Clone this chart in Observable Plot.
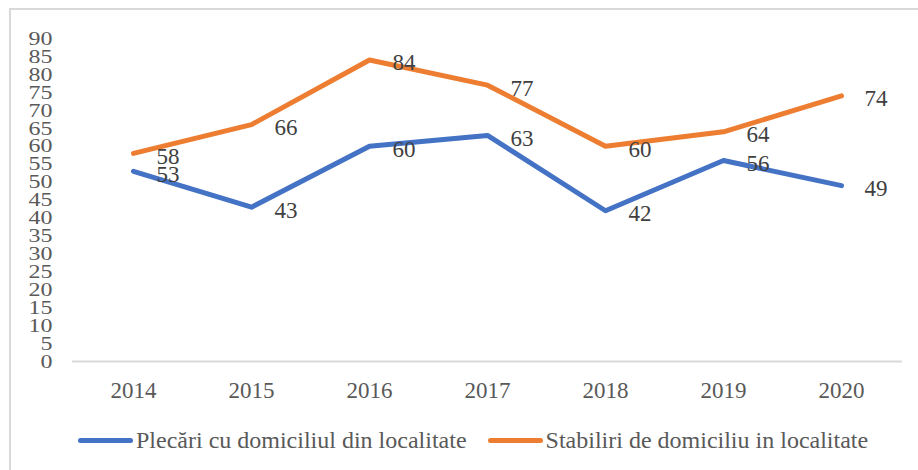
<!DOCTYPE html>
<html>
<head>
<meta charset="utf-8">
<script src="https://cdn.jsdelivr.net/npm/d3@7"></script>
<script src="https://cdn.jsdelivr.net/npm/@observablehq/plot@0.6"></script>
<style>
  html, body { margin: 0; padding: 0; background: #fff; overflow: hidden; font-family: 'Liberation Serif', serif; }
  #wrap { position: relative; width: 918px; height: 470px; font-family: 'Liberation Serif', serif; }
  #frame { position: absolute; left: 9px; top: 8px; width: 1000px; height: 1000px; border-top: 2px solid #d9d9d9; border-left: 2px solid #d9d9d9; box-sizing: border-box; }
  #chart { position: absolute; left: 0; top: 0; }
  #chart svg, #chart svg text { font-family: 'Liberation Serif', serif !important; }
  #legend { position: absolute; top: 427px; left: 78px; display: flex; align-items: center; font-size: 24px; color: #595959; white-space: nowrap; font-family: 'Liberation Serif', serif; }
  .item { display: flex; align-items: center; }
  .swatch { width: 55px; height: 5px; border-radius: 3px; margin-right: 3px; }
</style>
</head>
<body>
<div id="wrap">
  <div id="frame"></div>
  <div id="chart"></div>
  <div id="legend"></div>
</div>
<script>
const years = ["2014", "2015", "2016", "2017", "2018", "2019", "2020"];
const plecari = [53, 43, 60, 63, 42, 56, 49];
const stabiliri = [58, 66, 84, 77, 60, 64, 74];
const seriesNames = ["Plecări cu domiciliul din localitate", "Stabiliri de domiciliu in localitate"];
const colors = ["#4472C4", "#ED7D31"];
const yTicks = d3.range(0, 91, 5);

const data = [];
years.forEach((y, i) => {
  data.push({year: y, value: plecari[i], series: seriesNames[0]});
  data.push({year: y, value: stabiliri[i], series: seriesNames[1]});
});

const font = "'Liberation Serif', serif";

const chart = Plot.plot({
  width: 918,
  height: 470,
  marginLeft: 72,
  marginRight: 16,
  marginTop: 38,
  marginBottom: 109,
  style: "font-family: 'Liberation Serif', serif; background: transparent; overflow: visible;",
  x: { type: "band", domain: years, padding: 0 },
  y: { domain: [0, 90] },
  color: { domain: seriesNames, range: colors },
  marks: [
    Plot.ruleY([0], { stroke: "#d9d9d9", strokeWidth: 2 }),
    Plot.axisY({ ticks: yTicks, tickSize: 0, tickPadding: 20, fontSize: 24, fill: "#595959", label: null, className: "yax" }),
    Plot.axisX({ tickSize: 0, tickPadding: 20, fontSize: 23, fill: "#595959", label: null }),
    Plot.line(data, { x: "year", y: "value", z: "series", stroke: "series", strokeWidth: 5, strokeLinejoin: "round", strokeLinecap: "round" }),
    Plot.text(data, { x: "year", y: "value", text: d => String(d.value), textAnchor: "start", dx: 23, dy: 3, fontSize: 23, fill: "#404040" })
  ]
});
d3.select(chart).attr("font-family", font).selectAll("g").attr("font-family", font);
// vertically squash the y tick labels as in the reference
d3.select(chart).selectAll(".yax text").each(function() {
  const t = this.getAttribute("transform") || "";
  this.setAttribute("transform", t + " scale(1,0.82)");
});
document.getElementById("chart").appendChild(chart);

const legend = d3.select("#legend");
seriesNames.forEach((name, i) => {
  const item = legend.append("div").attr("class", "item").style("margin-right", i === 0 ? "21px" : "0px");
  item.append("div").attr("class", "swatch").style("background", colors[i]);
  item.append("span").text(name);
});
</script>
</body>
</html>
